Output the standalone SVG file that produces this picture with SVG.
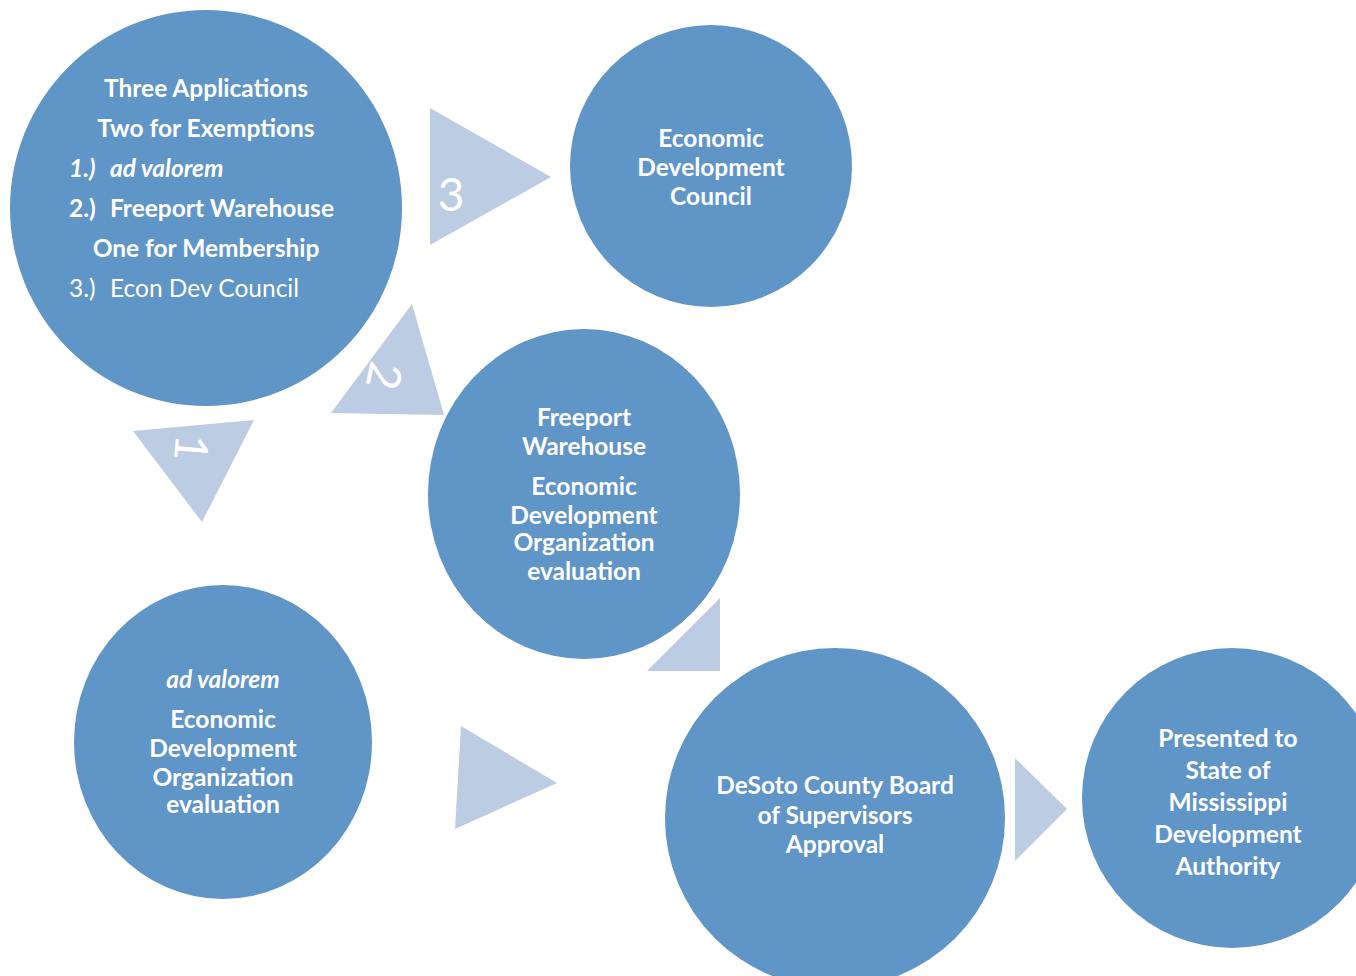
<svg xmlns="http://www.w3.org/2000/svg" width="1356" height="976" viewBox="0 0 1356 976">
<style>
.c{fill:#6095C8}
.t{fill:#BCCCE2}
text{font-family:Lato,"Open Sans","Liberation Sans",sans-serif;fill:#fff;font-size:24.5px}
.b{font-weight:bold}
.m{text-anchor:middle}
.i{font-style:italic}
.n{font-size:46px;font-weight:400}
</style>
<rect width="1356" height="976" fill="#fff"/>
<g id="connectors">
<polygon class="t" points="430,108 551,177 430,245"/>
<text class="n" x="451" y="211" text-anchor="middle">3</text>
<polygon class="t" points="412,304 444,415 331,413"/>
<text class="n" x="0" y="0" text-anchor="middle" transform="translate(384,376) rotate(102) translate(0,16)">2</text>
<polygon class="t" points="133,431 254,420 202,522"/>
<text class="n" x="0" y="0" text-anchor="middle" transform="translate(191,448) rotate(95) translate(0,16)">1</text>
<polygon class="t" points="720,598 720,671 647,671"/>
<polygon class="t" points="461,726 557,783 455,829"/>
<polygon class="t" points="1015,758 1067,809 1015,861"/>
</g>
<g id="n1">
<ellipse class="c" cx="206" cy="208" rx="196" ry="198"/>
<text class="b m" x="206" y="97">Three Applications</text>
<text class="b m" x="206" y="137">Two for Exemptions</text>
<text class="b i" x="69" y="177">1.)<tspan x="110">ad valorem</tspan></text>
<text class="b" x="69" y="217">2.)<tspan x="110">Freeport Warehouse</tspan></text>
<text class="b m" x="206" y="257">One for Membership</text>
<text x="69" y="297">3.)<tspan x="110">Econ Dev Council</tspan></text>
</g>
<g id="n2">
<circle class="c" cx="711" cy="166" r="141"/>
<text class="b m" x="711" y="147">Economic</text>
<text class="b m" x="711" y="176">Development</text>
<text class="b m" x="711" y="205">Council</text>
</g>
<g id="n3">
<ellipse class="c" cx="584" cy="494" rx="156" ry="165"/>
<text class="b m" x="584" y="426">Freeport</text>
<text class="b m" x="584" y="455">Warehouse</text>
<text class="b m" x="584" y="495">Economic</text>
<text class="b m" x="584" y="524">Development</text>
<text class="b m" x="584" y="551">Organization</text>
<text class="b m" x="584" y="580">evaluation</text>
</g>
<g id="n4">
<ellipse class="c" cx="223" cy="742" rx="149" ry="157"/>
<text class="b i m" x="223" y="688">ad valorem</text>
<text class="b m" x="223" y="728">Economic</text>
<text class="b m" x="223" y="757">Development</text>
<text class="b m" x="223" y="786">Organization</text>
<text class="b m" x="223" y="813">evaluation</text>
</g>
<g id="n5">
<circle class="c" cx="835" cy="818" r="170"/>
<text class="b m" x="835" y="794">DeSoto County Board</text>
<text class="b m" x="835" y="824">of Supervisors</text>
<text class="b m" x="835" y="853">Approval</text>
</g>
<g id="n6">
<circle class="c" cx="1232" cy="798" r="150"/>
<text class="b m" x="1228" y="747">Presented to</text>
<text class="b m" x="1228" y="779">State of</text>
<text class="b m" x="1228" y="811">Mississippi</text>
<text class="b m" x="1228" y="843">Development</text>
<text class="b m" x="1228" y="875">Authority</text>
</g>
</svg>
